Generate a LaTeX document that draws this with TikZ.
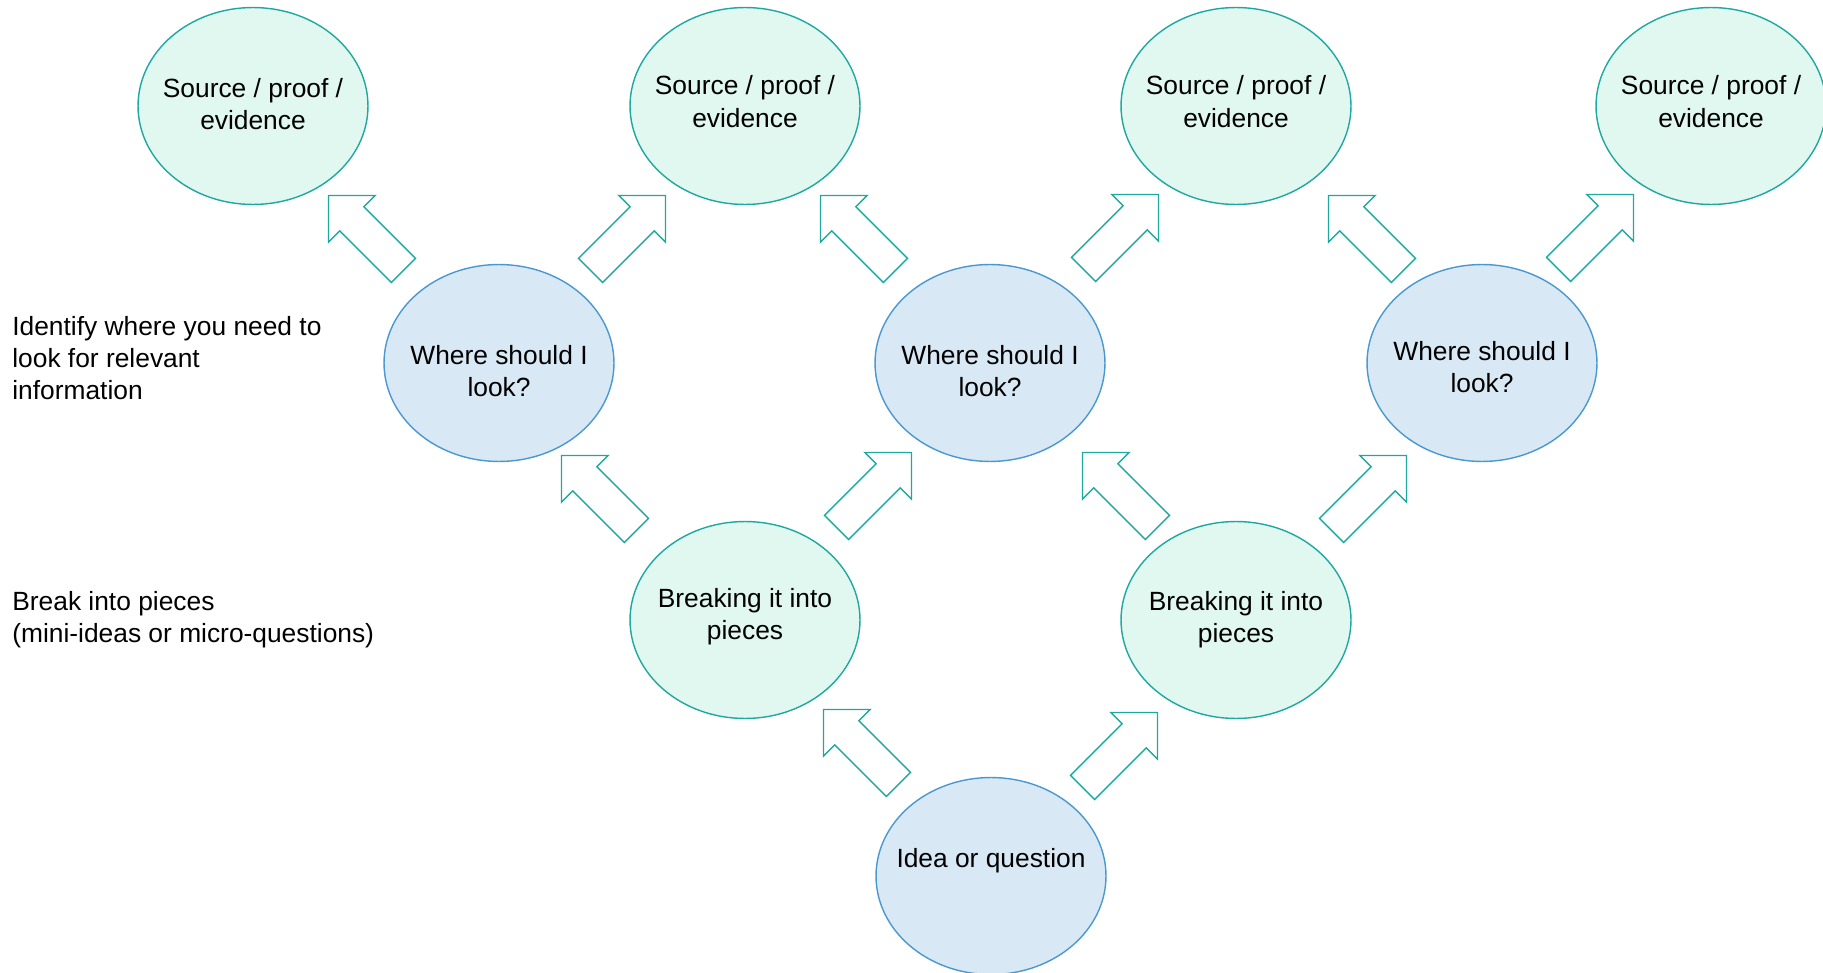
\documentclass[tikz,border=0pt]{standalone}
\usepackage{fontspec}
\setmainfont{Liberation Sans}
\usetikzlibrary{shapes.geometric,calc}
\definecolor{mintfill}{RGB}{224,248,240}
\definecolor{mintline}{RGB}{30,168,160}
\definecolor{bluefill}{RGB}{216,233,245}
\definecolor{blueline}{RGB}{74,152,208}
\definecolor{arrowline}{RGB}{30,168,160}
\tikzset{
  bubble/.style={ellipse, minimum width=4.6cm, minimum height=3.94cm, inner sep=0pt, line width=0.8pt},
  mint/.style={bubble, fill=mintfill, draw=mintline},
  blue/.style={bubble, fill=bluefill, draw=blueline},
  btext/.style={align=center, inner sep=0pt, font=\fontsize{15pt}{18.4pt}\selectfont},
  sidetext/.style={anchor=base west, align=left, inner sep=0pt, font=\fontsize{15pt}{18.2pt}\selectfont},
  pics/blockarrow/.style={code={
    \draw[arrowline, fill=white, line width=0.8pt, line join=miter]
      (-53,-17) -- (20,-17) -- (20,-33) -- (53,0) -- (20,33) -- (20,17) -- (-53,17) -- cycle;
  }}
}
\begin{document}
\begin{tikzpicture}[x=0.02cm, y=-0.02cm]
\useasboundingbox (0,0) rectangle (1823,973);
% bubbles
\node[mint] (s1) at (253,106) {};
\node[mint] (s2) at (745,106) {};
\node[mint] (s3) at (1236,106) {};
\node[mint] (s4) at (1711,106) {};
\node[blue] (w1) at (499,363) {};
\node[blue] (w2) at (990,363) {};
\node[blue] (w3) at (1482,363) {};
\node[mint] (b1) at (745,620) {};
\node[mint] (b2) at (1236,620) {};
\node[blue] (idea) at (991,876) {};
% bubble texts
\node[btext] (s1t) at ($(s1)+(0,-2)$) {Source / proof /\\evidence};
\node[btext] (s2t) at ($(s2)+(0,-4.5)$) {Source / proof /\\evidence};
\node[btext] (s3t) at ($(s3)+(0,-4.5)$) {Source / proof /\\evidence};
\node[btext] (s4t) at ($(s4)+(0,-4.5)$) {Source / proof /\\evidence};
\node[btext] (w1t) at ($(w1)+(0,8)$) {Where should I\\look?};
\node[btext] (w2t) at ($(w2)+(0,8)$) {Where should I\\look?};
\node[btext] (w3t) at ($(w3)+(0,4)$) {Where should I\\look?};
\node[btext] (b1t) at ($(b1)+(0,-3.5)$) {Breaking it into\\pieces};
\node[btext] (b2t) at ($(b2)+(0,0)$) {Breaking it into\\pieces};
\node[btext] (ideat) at ($(idea)+(0,-15)$) {Idea or question};
% side texts (anchored at the baseline of the last line)
\node[sidetext] (lookText) at (12,399) {Identify where you need to\\look for relevant\\information};
\node[sidetext] (breakText) at (12,642) {Break into pieces\\(mini-ideas or micro-questions)};
% block arrows
\coordinate (a1) at (366,233);
\coordinate (a2) at (628,233);
\coordinate (a3) at (858,233);
\coordinate (a4) at (1121,232);
\coordinate (a5) at (1366,233);
\coordinate (a6) at (1596,232);
\coordinate (a7) at (599,493);
\coordinate (a8) at (874,490);
\coordinate (a9) at (1120,490);
\coordinate (a10) at (1369,493);
\coordinate (a11) at (861,747);
\coordinate (a12) at (1120,750);
\foreach \c in {a1,a3,a5,a7,a9,a11} { \pic[rotate=135] at (\c) {blockarrow}; }
\foreach \c in {a2,a4,a6,a8,a10,a12} { \pic[rotate=45] at (\c) {blockarrow}; }
\end{tikzpicture}
\end{document}
